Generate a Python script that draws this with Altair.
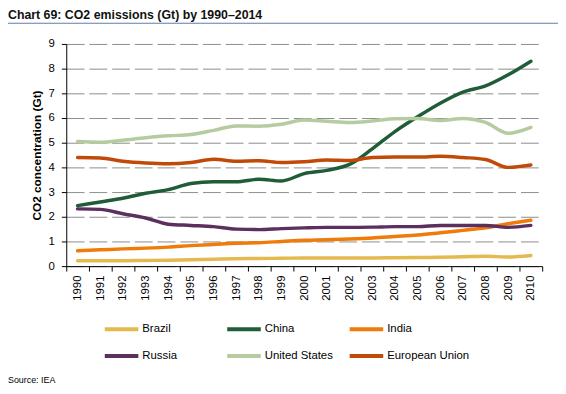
import altair as alt
import pandas as pd

years = ["1990", "1991", "1992", "1993", "1994", "1995", "1996", "1997", "1998", "1999",
         "2000", "2001", "2002", "2003", "2004", "2005", "2006", "2007", "2008", "2009", "2010"]

series_names = ["Brazil", "China", "India", "Russia", "United States", "European Union"]
series_colors = ["#E4B94E", "#1F5C38", "#EE7B0A", "#5B2F5E", "#B6CCA0", "#C24A09"]

brazil = [0.22, 0.22, 0.22, 0.23, 0.24, 0.26, 0.28, 0.30, 0.31, 0.32, 0.33,
          0.33, 0.33, 0.33, 0.34, 0.35, 0.36, 0.38, 0.40, 0.37, 0.43]
china = [2.45, 2.60, 2.75, 2.95, 3.10, 3.35, 3.42, 3.42, 3.52, 3.45, 3.75,
         3.88, 4.12, 4.75, 5.45, 6.05, 6.60, 7.05, 7.30, 7.75, 8.30]
india = [0.62, 0.66, 0.70, 0.73, 0.77, 0.83, 0.88, 0.93, 0.95, 1.00, 1.05,
         1.07, 1.10, 1.14, 1.20, 1.26, 1.35, 1.45, 1.55, 1.72, 1.86]
russia = [2.32, 2.30, 2.12, 1.95, 1.70, 1.65, 1.60, 1.50, 1.48, 1.52, 1.55,
          1.57, 1.57, 1.58, 1.60, 1.60, 1.65, 1.65, 1.65, 1.57, 1.65]
united_states = [5.05, 5.02, 5.10, 5.20, 5.28, 5.33, 5.50, 5.68, 5.67, 5.75, 5.92,
                 5.87, 5.82, 5.88, 5.97, 5.98, 5.90, 5.98, 5.82, 5.38, 5.62]
european_union = [4.40, 4.38, 4.25, 4.18, 4.15, 4.20, 4.33, 4.25, 4.27, 4.20, 4.23,
                  4.30, 4.28, 4.40, 4.42, 4.42, 4.45, 4.40, 4.32, 4.00, 4.10]

y_ticks = [0, 1, 2, 3, 4, 5, 6, 7, 8, 9]
title_text = "Chart 69: CO2 emissions (Gt) by 1990\u20132014"
source_text = ["Source: IEA"]

all_values = [brazil, china, india, russia, united_states, european_union]
rows = []
for name, vals in zip(series_names, all_values):
    for yr, v in zip(years, vals):
        rows.append({"year": yr, "value": v, "country": name})
df = pd.DataFrame(rows)

FONT = "Liberation Sans"

lines = alt.Chart(df).mark_line(strokeWidth=3.5, interpolate="monotone", strokeCap="round").encode(
    x=alt.X("year:O", title=None, sort=years, bandPosition=0.5,
            scale=alt.Scale(type="band", paddingInner=0, paddingOuter=0),
            axis=alt.Axis(labelAngle=-90, tickBand="extent", tickSize=5, tickColor="black",
                          domainColor="black", labelPadding=4, labelFontSize=11.5,
                          labelColor="black", labelFont=FONT, grid=False)),
    y=alt.Y("value:Q", title="CO2 concentration (Gt)",
            scale=alt.Scale(domain=[0, 9], nice=False),
            axis=alt.Axis(values=y_ticks, tickSize=5, tickColor="black", domainColor="black",
                          labelPadding=7, labelFontSize=11.5, labelColor="black", labelFont=FONT,
                          grid=True, gridColor="#8c8c8c", gridDash=[18, 5], gridWidth=1,
                          titleFont=FONT, titleFontSize=12, titleFontWeight="bold",
                          titleColor="black", titlePadding=5)),
    color=alt.Color("country:N", sort=series_names,
                    scale=alt.Scale(domain=series_names, range=series_colors),
                    legend=alt.Legend(title=None, orient="none", legendX=37, legendY=270,
                                      direction="horizontal",
                                      columns=3, gridAlign="all", columnPadding=-7,
                                      rowPadding=-8, symbolType="stroke", symbolSize=1156,
                                      symbolStrokeWidth=4, labelOffset=2,
                                      labelFontSize=11.5, labelFont=FONT, labelColor="black")),
)

underline = alt.Chart(pd.DataFrame({"a": [0]})).mark_rule(color="#5b7fae", strokeWidth=1.2).encode(
    x=alt.value(-59), x2=alt.value(498), y=alt.value(-21)
)

source = alt.Chart(pd.DataFrame({"t": source_text})).mark_text(
    align="left", baseline="middle", fontSize=9, font=FONT, color="black"
).encode(x=alt.value(-59), y=alt.value(340), text="t:N")

chart = alt.layer(lines, underline, source).properties(
    width=482, height=225,
    autosize=alt.AutoSizeParams(type="none"),
    padding={"left": 59, "top": 34, "right": 16, "bottom": 122},
    title=alt.TitleParams(title_text, anchor="start", frame="group", dx=-59, offset=1,
                          fontSize=12.5, font=FONT, fontWeight="bold", color="#111111"),
).configure_view(stroke=None)

chart.save("out.html", embed_options={"renderer": "svg", "actions": False})
